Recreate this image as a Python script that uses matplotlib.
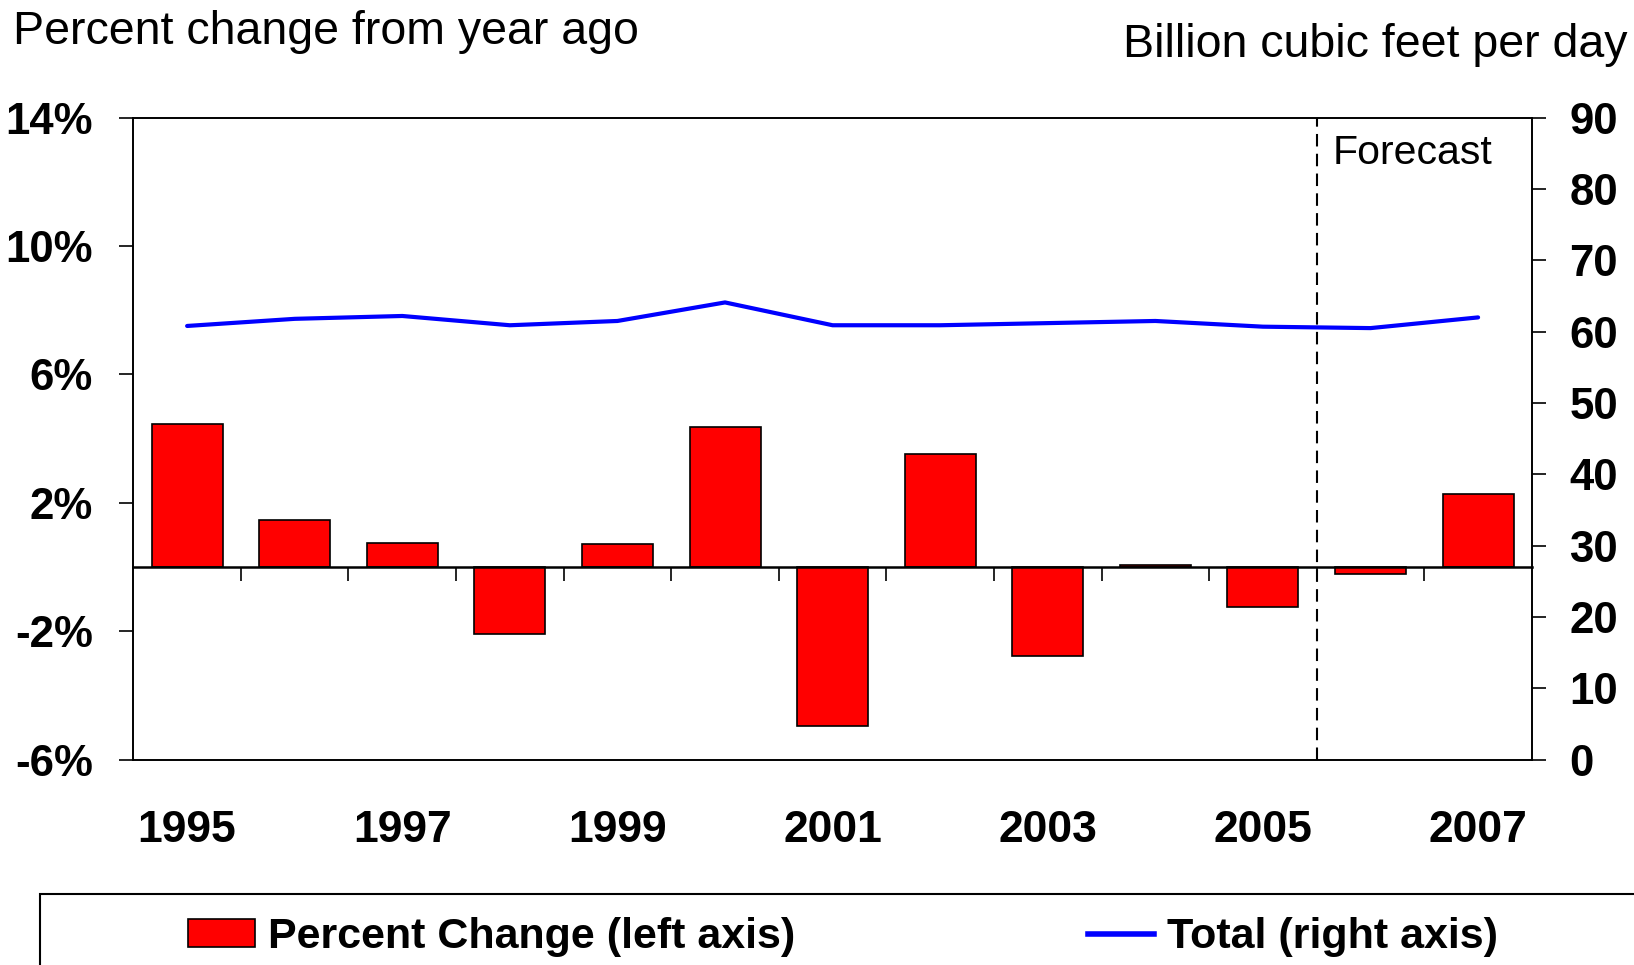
import matplotlib
matplotlib.use("Agg")
import matplotlib.pyplot as plt
from matplotlib.patches import Rectangle, Patch
from matplotlib.lines import Line2D

plt.rcParams['font.family'] = ['Liberation Sans', 'DejaVu Sans']

years = [1995, 1996, 1997, 1998, 1999, 2000, 2001, 2002, 2003, 2004, 2005, 2006, 2007]
pct_change = [4.45, 1.46, 0.75, -2.09, 0.71, 4.35, -4.94, 3.52, -2.76, 0.06, -1.25, -0.23, 2.26]
total = [60.8, 61.8, 62.2, 60.9, 61.5, 64.1, 60.9, 60.9, 61.2, 61.5, 60.7, 60.5, 62.0]

year_labels = [1995, 1997, 1999, 2001, 2003, 2005, 2007]
left_ticks = [-6, -2, 2, 6, 10, 14]
left_labels = ['-6%', '-2%', '2%', '6%', '10%', '14%']
right_ticks = [0, 10, 20, 30, 40, 50, 60, 70, 80, 90]
forecast_start = 2005.5

fig = plt.figure(figsize=(16.34, 9.65), dpi=100)
ax = fig.add_axes([0.0816, 0.2129, 0.8559, 0.6651])

ax.bar(years, pct_change, width=0.66, color='#FF0000', edgecolor='black', linewidth=1.2, zorder=2)
ax.set_xlim(years[0] - 0.5, years[-1] + 0.5)
ax.set_ylim(left_ticks[0], left_ticks[-1])
ax.set_yticks(left_ticks, left_labels)
ax.tick_params(axis='y', length=10, width=1.2, pad=19, labelsize=31.5)
for lab in ax.get_yticklabels():
    lab.set_fontweight('bold')

# zero line carries the between-year ticks
ax.spines['bottom'].set_position(('data', 0))
ax.spines['bottom'].set_linewidth(1.8)
ax.spines['bottom'].set_zorder(3)
ax.set_xticks([y + 0.5 for y in years[:-1]])
ax.tick_params(axis='x', length=10, width=1.2, labelbottom=False)
for s in ['left', 'top', 'right']:
    ax.spines[s].set_linewidth(1.2)

yr = ax.secondary_xaxis('bottom')
yr.set_xticks(year_labels, [str(y) for y in year_labels])
yr.tick_params(length=0, pad=36, labelsize=32)
yr.spines['bottom'].set_linewidth(1.2)
for lab in yr.get_xticklabels():
    lab.set_fontweight('bold')

ax.axvline(forecast_start, color='black', linestyle=(0, (6, 3.5)), linewidth=1.5, zorder=3)
ax.text(forecast_start + 0.15, 12.9, 'Forecast', fontsize=29.5, va='center', ha='left')

ax2 = ax.twinx()
ax2.plot(years, total, color='#0000FF', linewidth=3, solid_capstyle='round')
ax2.set_ylim(right_ticks[0], right_ticks[-1])
ax2.set_yticks(right_ticks)
ax2.tick_params(axis='y', length=10, width=1.2, pad=17, labelsize=31.5)
for lab in ax2.get_yticklabels():
    lab.set_fontweight('bold')
for s in ax2.spines.values():
    s.set_linewidth(1.2)

fig.text(0.0077, 0.954, 'Percent change from year ago', fontsize=33.5, va='baseline', ha='left')
fig.text(0.996, 0.941, 'Billion cubic feet per day', fontsize=33.5, va='baseline', ha='right')

handles = [Patch(facecolor='#FF0000', edgecolor='black', linewidth=1.2),
           Line2D([0], [0], color='#0000FF', linewidth=4)]
leg = fig.legend(handles, ['Percent Change (left axis)', 'Total (right axis)'],
                 loc='center left', bbox_to_anchor=(0.115, 0.029), ncol=2, frameon=False,
                 borderpad=0, borderaxespad=0, handlelength=1.55, handleheight=0.6,
                 handletextpad=0.3, columnspacing=6.8,
                 prop={'size': 31, 'weight': 'bold'})
fig.add_artist(Rectangle((0.0242, -0.1), 2, 0.1736, transform=fig.transFigure,
                         fill=False, edgecolor='black', linewidth=1.5))

fig.savefig('out.png', dpi=100)
